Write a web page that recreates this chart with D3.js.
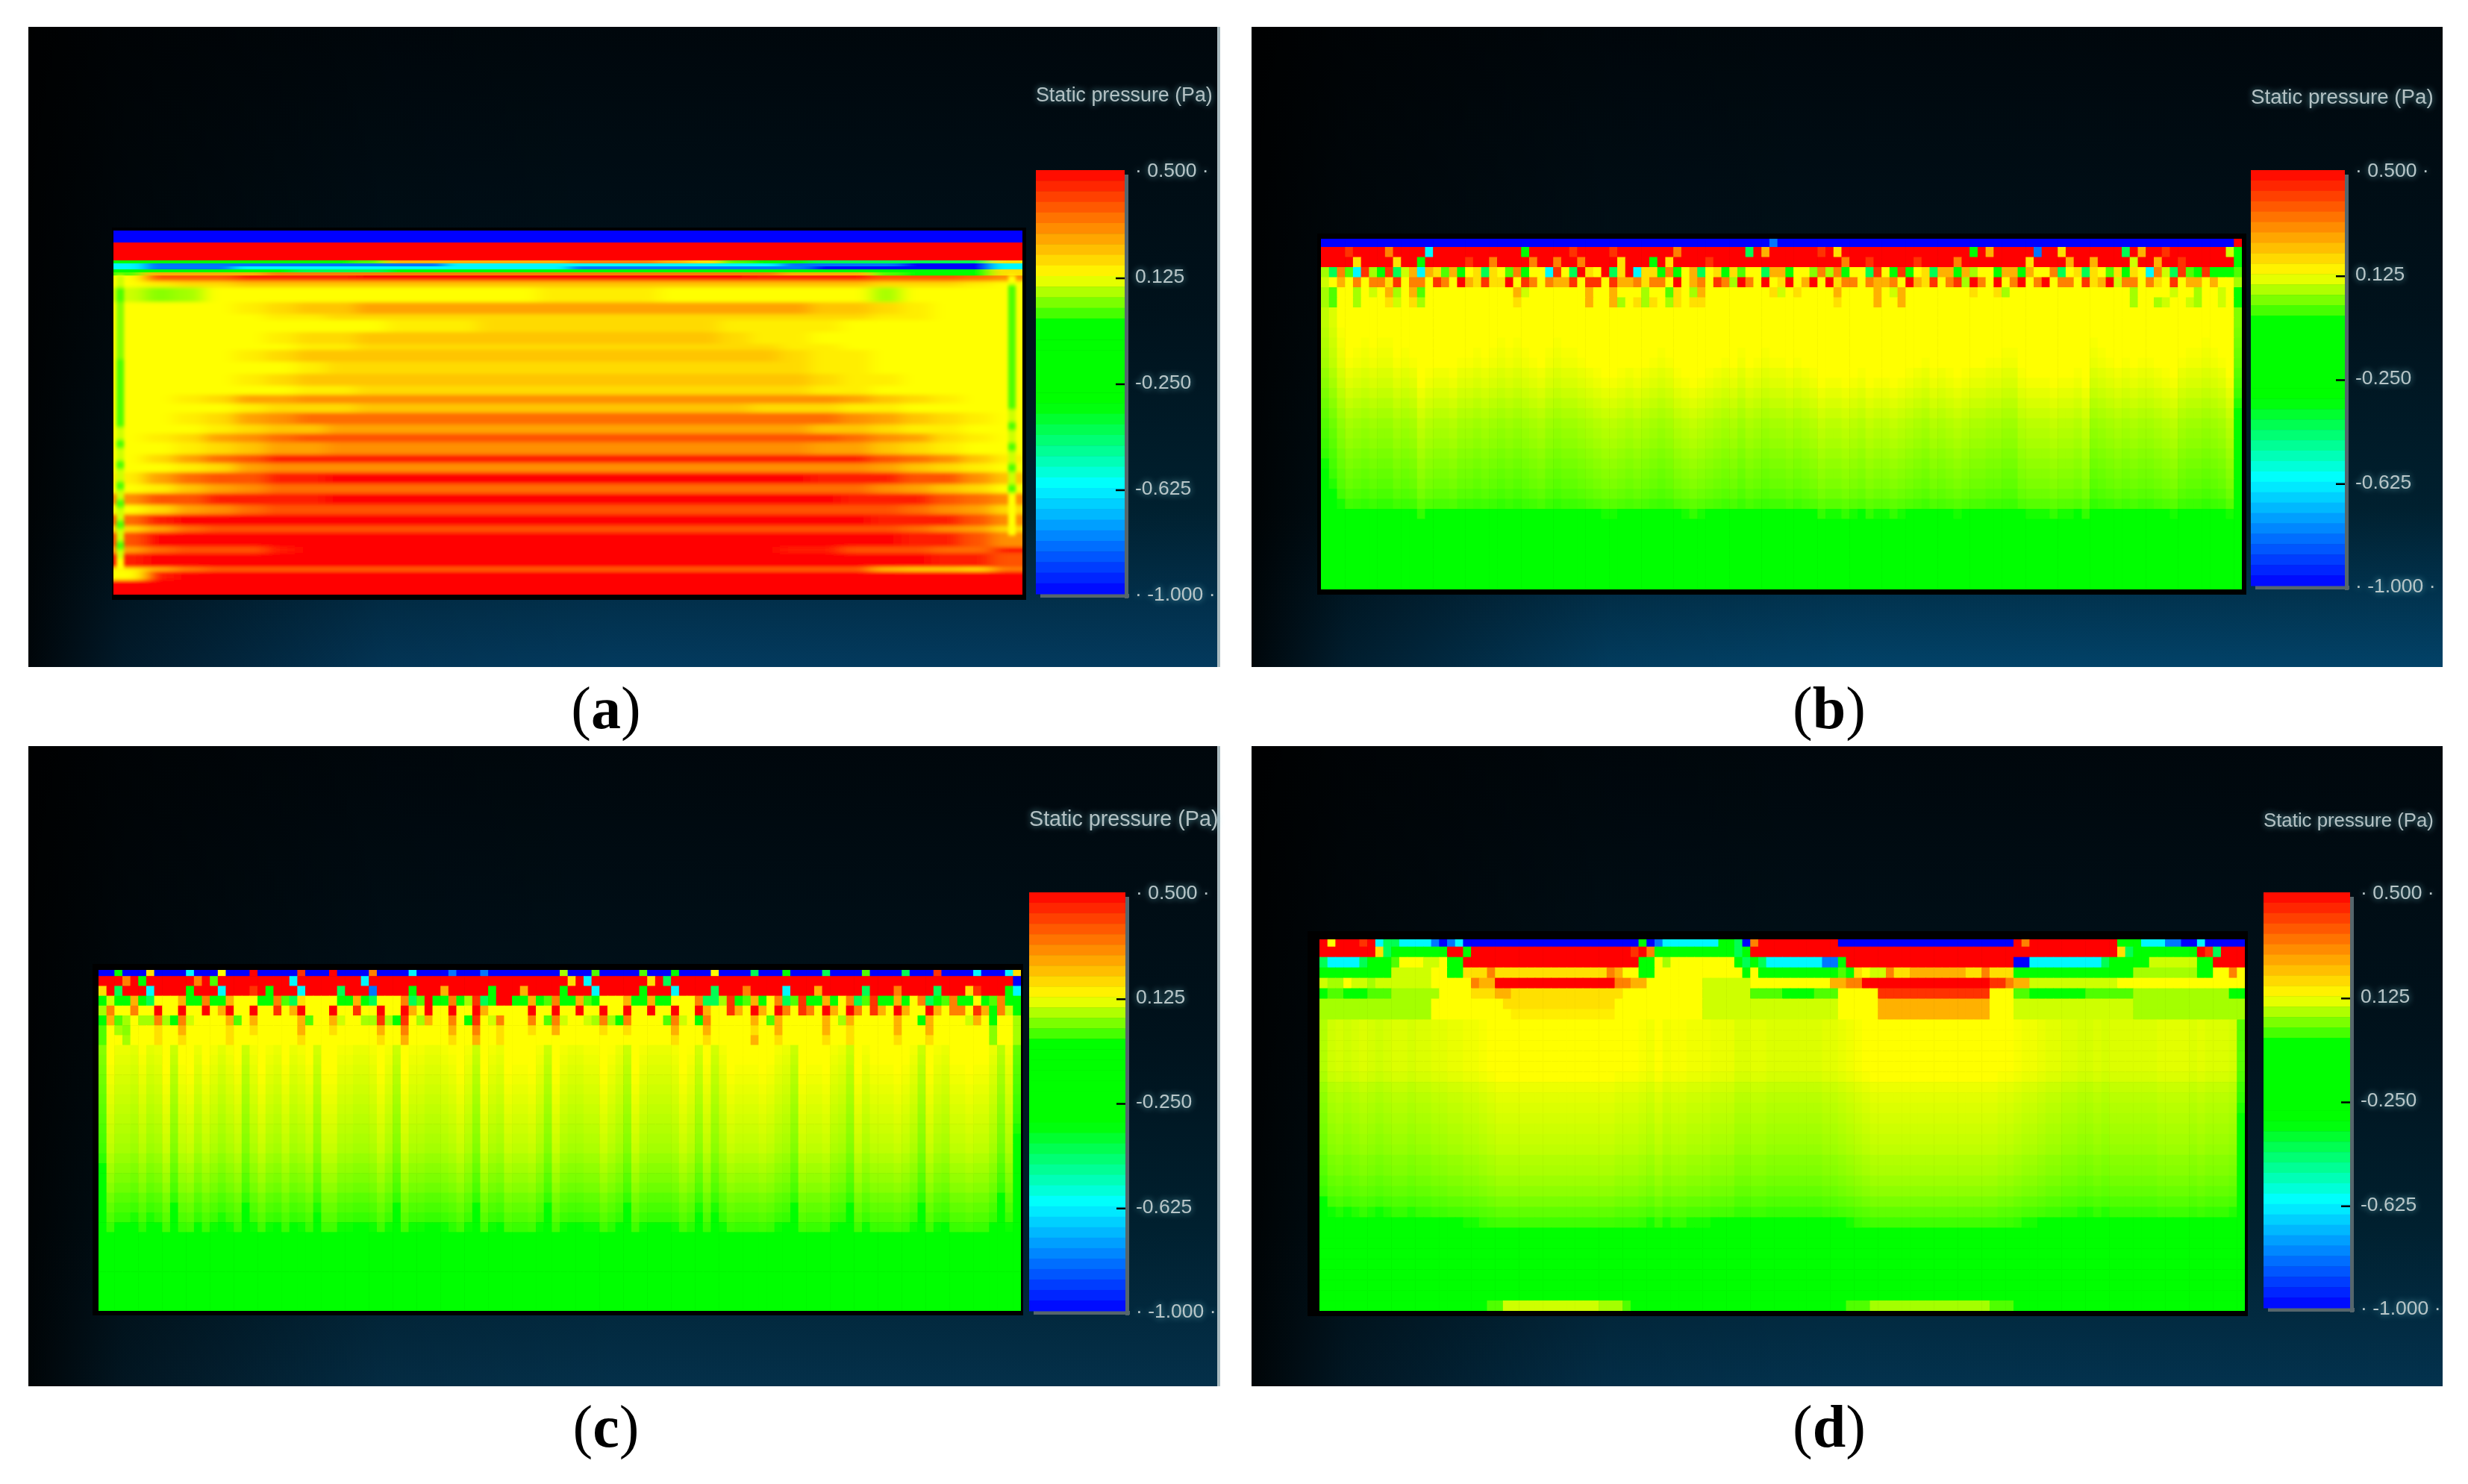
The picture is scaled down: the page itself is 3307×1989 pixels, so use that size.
<!DOCTYPE html>
<html><head><meta charset="utf-8">
<script src="https://cdn.jsdelivr.net/npm/d3@7"></script>
<style>html,body{margin:0;background:#fff}svg{display:block}</style></head>
<body><svg id="c" width="3307" height="1989"></svg>
<script>
// ---------- shared colour legend ----------
const tickValues = [0.5, 0.125, -0.25, -0.625, -1];
const colorDomain = [0.5, 0.125, -0.02, -0.03, -0.33, -0.61, -1];
const colorRange = ["#ff0000", "#ffff00", "#33ff00", "#00ff00", "#00ff00", "#00ffff", "#0000ff"];
const levelCodes = ["R","8","r","7","6","o","5","4","a","3","2","g","1","Y","y","l","L","k","G","e","c","d","B"];
const levelValues = [0.5,0.46,0.43,0.38,0.34,0.31,0.29,0.26,0.24,0.21,0.18,0.17,0.15,0.125,0.09,0.06,0.04,0,-0.2,-0.42,-0.62,-0.82,-1];

// ---------- panel (a): bands read top to bottom; each is [left samples, middle code, right samples, rows spanned] ----------
const aTopBands = [
 ["B","B","",4],["R","R","",6],
 ["GGGGGGGGkaaaaaaoooagkGGeeeeeeg","","",1],
 ["cddddddddddcccccccccccddddBBBc","","",1],
 ["cdddcccccccccccddddddddBBBBBBc","","",1],
 ["GGGGGGeeeGGGGGGGGGGGGGGGGGGGGg","","",1],
 ["kaaaaoooooooooooooooooaaakGGGg","","",1]];
const aBands = [
 ["Y7778888","R","888877765",2],
 ["Y12233","3","332221Y",2],
 ["yLlYYYYYYYYYYY1111YYYYYYYlYYYY","","",5],
 ["YYYY1233","4","43321YYY",4],
 ["YYYYY1122","2","2211YYY",2],
 ["YYYYYYYYY111222222221111YYYYYY","","",4],
 ["YYYYY1223","3","3211YYYYYYY",4],
 ["YYYYYY1122","2","2211YYYYYY",2],
 ["YYYY1233","3","33211YYYYY",4],
 ["YYYYYY122","2","2211YYYYY",4],
 ["YYYY1233","3","33211YYYY",4],
 ["YYYYYY112","2","211YYYYY",3],
 ["YY12445","5","554321YY",3],
 ["YYYY1222","3","322211YYYY",3],
 ["YY124566","6","66654321Y",4],
 ["YYY12334","4","4433211YY",3],
 ["Y1245677","7","77765421Y",3],
 ["YY1234455","5","5544321YY",4],
 ["Y2467888","8","88876531",3],
 ["YY124555","5","5554321Y",3],
 ["1467788R","R","R8887753",4],
 ["Y1345666","6","6665432Y",3],
 ["5778888R","R","R888765",4],
 ["Y2456777","7","77776542",3],
 ["68RR","R","R88875",4],
 ["24677777","7","7776542",2],
 ["7RRR","R","R8875",5],
 ["467778R","R","8877766R",2],
 ["8RR","R","R887",5],
 ["13566","6","66211Y5",1],
 ["Y8R","R","RR",3],
 ["R","R","",5]];
const aLeftEdge = [["y",4],["k",5],["L",19],["k",23],["y",4],["k",3],["y",4],["k",3],["y",4],["k",3],["y",3],["k",3],["y",4],["k",3],["y",4],["k",3],["y",3],["Y",4],[".",8]];
const aRightEdge = [["Y",3],["k",42],["y",4],["k",3],["y",4],["k",3],["y",4],["k",3],["y",4],["k",3],["Y",14],[".",20]];

// ---------- panel (b) ----------
const bRow0 = "56d 114R";
const bRow1 = "3r 8o 13c 25G 31r 36r 44o 53e 55a 62r 64g 81G 83a 89d 92g 100e 102a 105r 113y 114G";
const bRow2 = "4g 9g 12G 18r 21o 26o 29o 32o 37g 41G 43g 48r 65o 68r 74r 79o 88g 93a 96a 101y 104a 107r 114G";
const bRow3 = "leokcrlGre"+"yacagkaGYg"+"egYkoGYYcr"+"YeRgYRegRc"+"ggGoGYaeYg"+"GgkYYeaaGY"+"YLo"+"loGYYer"+"YGrGYgeaaG"+"alYYGaaGaY"+"YoeYgegYkg"+"GgYcoyerkG"+"rGGGk";
const bRow4 = "yYaYoYoogr"+"YooYroYRag"+"rggRYroYoa"+"arYrrYraao"+"gooYRYaoYr"+"olRoYRYgRY"+"aRY"+"RgooYoaaoY"+"RagrYorlRo"+"YRYoRYoRYo"+"oYrgaRyooY"+"ogYrYaaYaYYl";
const bRow5 = "0l 1k 4l 6y 8a 9l 11a 12k 24a 25y 33a 36a 40l 43k 44g 46l 47a 56g 57y 59g 64a 69a 71y 72a 81g 84g 85l 101l 106y 109l 112y 114G";
const bRow6 = "0l 1k 4l 8g 9y 11g 12l 24g 33a 36a 37l 39g 40l 41g 43l 44g 46g 47g 64g 69a 72a 101l 104l 105y 108y 109l 112y 114G";
const bBodyRows = [.16,.16,.155,.15,.145,.14,.13,.122,.112,.102,.092,.082,.075,.068,.06,.052,.045,.037,.026,.01,-.02,-.035,-.04,-.05,-.06,-.07,-.08,-.09];
const bColumnShade = "gc74565664"+"5402332445"+"4565654356"+"5543211232"+"3454210123"+"4353454434"+"3201101201"+"1012342321"+"2334455211"+"1011206543"+"4344321455"+"6541p";

// ---------- panel (c) ----------
const cRow0 = "2G 6g 11c 15Y 19R 25r 29R 34o 39c 44d 48d 58l 62k 68k 72G 77Y 82e 86G 91e 96k 101e 105r 110c 114c 115g";
const cRow1 = "3o 5G 12o 14k 24c 33c 59g 61c 69g 71e 115B";
const cRow2 = "0g 2e 6c 11G 15c 19r 21G 25c 30e 34d 39G 43a 49G 53a 58G 62c 68G 72c 77e 81o 86c 90a 96e 100o 105e 109g 110r 114G 115c";
const cRow3 = "GyGGaGeYYYaGGoGGaYYY"+"GGokegYYYYGGaGeYYYoe"+"kRGGoGlreGRRGGaGkoGGak"+"GYYYaGGaGGYYYoeelrGkaGYoekrGGaGYoekrGGaGYoeGkoGGYGkoGG";
const cRow4 = "0l 1o 4o 7R 10R 13R 15a 16R 19R 22r 24a 25R 29R 32r 35R 38R 39a 41R 44R 47R 48a 54R 57R 60R 63R 66R 69R 72R 75R 76a 79r 80a 82R 83a 85R 86o 88r 89o 91R 92a 94R 95o 97r 98a 100R 101a 104R 105a 107o 108o 110r 111a 112G 113o 114y 115G";
const cRow5 = "0G 1a 2k 3l 5l 6l 7o 8l 9G 10o 11y 16a 17k 19a 25a 26k 29a 30y 33l 34l 35r 36l 37G 38r 40l 41a 44o 46G 47r 49y 50o 54o 56k 57o 58y 61y 62l 63o 64l 65G 66o 71k 72o 73y 75G 76o 82a 84k 85a 91a 93l 94a 100a 103G 104a 109y 110a 112G 115l";
const cRow6 = "0k 2l 3L 7g 10a 16g 19g 25a 29g 35a 38o 44a 47o 50g 54g 57a 63g 66g 72a 76a 82g 85a 91a 94g 100a 104a 112L 115l";
const cRow7 = "0k 3l 7g 10g 16g 25g 35g 38a 44g 47a 50g 72g 76g 82a 85g 91g 94g 100g 104g 112L 115l";
const cBodyRows = [.135,.13,.125,.12,.115,.11,.105,.1,.095,.09,.085,.075,.065,.055,.045,.03,.018,.006,-.01,-.03,-.035,-.04,-.05,-.06,-.07,-.08,-.09];
const cColumnShade = "g144525408"+"1041353183"+"0341431700"+"3344303803"+"3443203803"+"4011038034"+"4330248034"+"4430271730"+"1110134801"+"1034803111"+"0138034110"+"114a3k";

// ---------- panel (d): rows as [code, end column] runs ----------
const dTopRuns = [
 [["R",1],["Y",2],["R",5],["r",6],["R",7],["c",8],["e",10],["c",14],["d",15],["B",16],["d",17],["c",18],["B",40],["G",41],["B",42],["d",43],["c",50],["G",52],["e",53],["B",54],["o",55],["R",65],["B",87],["R",88],["o",89],["R",100],["G",103],["c",106],["d",108],["B",110],["c",111],["B",116]],
 [["R",7],["g",8],["e",9],["G",16],["R",18],["G",19],["R",39],["r",40],["R",41],["o",42],["G",52],["e",53],["G",54],["R",100],["g",101],["e",102],["G",110],["R",111],["r",112],["e",113],["R",116]],
 [["e",1],["c",5],["e",6],["G",9],["k",10],["Y",13],["y",15],["Y",16],["G",18],["R",40],["G",42],["Y",43],["l",44],["Y",52],["G",53],["e",54],["G",55],["e",56],["c",63],["d",65],["G",66],["R",87],["B",89],["c",98],["e",99],["G",104],["y",110],["G",112],["R",116]],
 [["G",9],["y",14],["Y",16],["G",18],["g",21],["o",22],["g",36],["o",37],["a",38],["Y",40],["G",42],["Y",53],["G",54],["Y",55],["G",65],["k",66],["G",67],["g",68],["Y",69],["y",71],["o",72],["g",74],["a",81],["g",83],["o",84],["g",87],["G",102],["l",110],["G",112],["Y",114],["o",115],["Y",116]],
 [["y",1],["l",3],["Y",4],["y",6],["l",7],["y",14],["Y",19],["o",20],["a",22],["R",37],["o",39],["a",41],["Y",48],["y",54],["Y",64],["a",66],["o",68],["R",84],["r",86],["o",87],["a",89],["y",100],["Y",116]],
 [["G",1],["k",3],["G",6],["k",9],["l",15],["Y",19],["g",22],["a",24],["g",38],["Y",48],["y",54],["k",58],["G",62],["k",65],["Y",70],["r",84],["Y",87],["k",89],["G",96],["k",102],["l",114],["G",116]],
 [["l",14],["Y",23],["g",37],["Y",48],["y",65],["Y",70],["a",84],["Y",87],["y",102],["l",116]],
 [["l",14],["Y",24],["1",37],["Y",48],["y",65],["Y",70],["a",84],["Y",87],["y",102],["l",116]]];
const dBodyRows = [.13,.13,.13,.13,.13,.125,.112,.105,.1,.095,.09,.085,.08,.07,.065,.055,.045,.03,.012,-.01,-.03,-.04,-.05,-.06,-.07,-.08,-.09];
const dColumnShade = "c878767876"+"6766554433"+"2100000000"+"0000000111"+"2313223334"+"4466556666"+"6665543210"+"0000000000"+"0000011233"+"4556677676"+"6666655556"+"56667p";
const dLastRow = [["G",21],["k",23],["y",35],["l",38],["k",39],["G",66],["k",69],["l",84],["k",87],["G",116]];

const panelLabels = ["a","b","c","d"];

// ---------- scales & helpers ----------
const color = d3.scaleLinear().domain(colorDomain).range(colorRange).clamp(true);
const levelValue = new Map(levelCodes.map((c,i)=>[c,levelValues[i]]));
const val = c => levelValue.get(c);
const pad = (s,n) => s.padEnd(n, s[s.length-1]);
const codeRow = (s,n) => Array.from(pad(s,n), val);
const spotRow = (base,spots,n) => {
  const r = Array(n).fill(val(base));
  spots.split(" ").forEach(t => { const m=t.match(/(\d+)(.)/); if(+m[1]<n) r[+m[1]] = val(m[2]); });
  return r;
};
const runRow = (runs,n) => {
  const r=[]; let c=0;
  runs.forEach(([code,end]) => { while(c<end && c<n){ r[c++]=val(code);} });
  while(c<n) r[c++]=val(runs[runs.length-1][0]);
  return r;
};
const bodyRows = (rows,shade,step,n) => rows.map(b => d3.range(n).map(c =>
  Math.min(0.125, b - step*parseInt(shade[Math.min(c,shade.length-1)],36))));
const expand = bands => bands.flatMap(([s,k]) => d3.range(k).map(()=>s));
const bandText = (l,m,r,n) => l + m.repeat(Math.max(0,n-l.length-r.length)) + r;
const expandBands = (bands,n) => bands.flatMap(([l,m,r,k]) => d3.range(k).map(()=>bandText(l,m,r,n)));

const svg = d3.select("#c");
const defs = svg.append("defs");
const blur = (id,sd) => defs.append("filter").attr("id",id)
  .attr("filterUnits","userSpaceOnUse").attr("x",0).attr("y",0).attr("width",3307).attr("height",1989)
  .append("feGaussianBlur").attr("stdDeviation",sd);
blur("cells","0.7"); blur("field","11 2.4"); blur("thin","10 0.4"); blur("edge","2.2 2.5");

// ---------- panel frames ----------
const frames = [
 {x:38,y:36,w:1597,h:858,bottom:"#033a5e",strip:true},
 {x:1677,y:36,w:1596,h:858,bottom:"#024268",strip:false},
 {x:38,y:1000,w:1597,h:858,bottom:"#04304a",strip:true},
 {x:1677,y:1000,w:1596,h:858,bottom:"#03324e",strip:false}];
frames.forEach((f,i)=>{
  const g = defs.append("linearGradient").attr("id","bg"+i).attr("x1",0).attr("x2",0).attr("y1",0).attr("y2",1);
  [[0,"#00070c"],[.45,"#00121c"],[.75,"#00202f"],[1,f.bottom]].forEach(([o,c])=>g.append("stop").attr("offset",o).attr("stop-color",c));
  svg.append("rect").attr("x",f.x).attr("y",f.y).attr("width",f.w).attr("height",f.h).attr("fill","url(#bg"+i+")");
  const h = defs.append("linearGradient").attr("id","shade"+i);
  [[0,.9],[.08,.55],[.3,.1],[.5,0]].forEach(([o,a])=>h.append("stop").attr("offset",o).attr("stop-color","#000").attr("stop-opacity",a));
  svg.append("rect").attr("x",f.x).attr("y",f.y).attr("width",f.w).attr("height",f.h).attr("fill","url(#shade"+i+")");
  if(f.strip) svg.append("rect").attr("x",f.x+f.w-4).attr("y",f.y).attr("width",4).attr("height",f.h).attr("fill","#a9babf");
});

// ---------- heat-map drawing ----------
function plotFrame(p,i){
  svg.append("rect").attr("x",p.x0-p.b[0]).attr("y",p.y0-p.b[1]).attr("width",p.x1-p.x0+p.b[0]+p.b[2]).attr("height",p.y1-p.y0+p.b[1]+p.b[3]).attr("fill","#000");
  defs.append("clipPath").attr("id","clip"+i).append("rect").attr("x",p.x0).attr("y",p.y0).attr("width",p.x1-p.x0).attr("height",p.y1-p.y0);
}
function cellPanel(p,i,grid){
  plotFrame(p,i);
  const nC = grid[0].length;
  const x = d3.scaleBand().domain(d3.range(nC)).range([p.x0,p.x1]);
  const y = d3.scaleBand().domain(d3.range(grid.length)).range([p.rowTop,p.y1]);
  const g = svg.append("g").attr("clip-path","url(#clip"+i+")").append("g").attr("filter","url(#cells)");
  g.selectAll("g").data(grid).join("g").selectAll("rect").data((d,r)=>d.map((v,c)=>({v,c,r}))).join("rect")
    .attr("x",d=>x(d.c)).attr("y",d=>y(d.r)).attr("width",x.bandwidth()+.6).attr("height",y.bandwidth()+.6)
    .attr("fill",d=>color(d.v));
}

// Panel (a)
(function(){
  const p={x0:152,x1:1370,y0:309,y1:797,b:[2,4,5,7]};
  plotFrame(p,0);
  const nC=30, top=expandBands(aTopBands,nC), body=expandBands(aBands,nC), total=top.length+body.length;
  const x=d3.scaleLinear().domain([0,nC]).range([p.x0,p.x1]);
  const y=d3.scaleBand().domain(d3.range(total)).range([p.y0,p.y1]);
  const root=svg.append("g").attr("clip-path","url(#clip0)");
  const rowCells=(s,r)=>codeRow(s,nC).map((v,c)=>({v,c,r}));
  const field=root.append("g").attr("filter","url(#field)");
  field.selectAll("g").data(body).join("g").selectAll("rect").data((s,i)=>rowCells(s,i+top.length)).join("rect")
    .attr("x",d=>x(d.c)-(d.c===0?60:0)).attr("width",d=>x(1)-x(0)+1+(d.c===0||d.c===nC-1?60:0))
    .attr("y",d=>y(d.r)-(d.r===top.length?12:0)).attr("height",d=>y.bandwidth()+.5+(d.r===total-1?30:0)+(d.r===top.length?12:0))
    .attr("fill",d=>color(d.v));
  const thin=root.append("g").attr("filter","url(#thin)");
  thin.selectAll("g").data(top).join("g").selectAll("rect").data((s,i)=>rowCells(s,i)).join("rect")
    .attr("x",d=>x(d.c)-(d.c===0?40:0)).attr("width",d=>x(1)-x(0)+1+(d.c===0||d.c===nC-1?40:0))
    .attr("y",d=>y(d.r)-(d.r===0?10:0)).attr("height",d=>y.bandwidth()+.3+(d.r===0?10:0))
    .attr("fill",d=>color(d.v));
  const edge=root.append("g").attr("filter","url(#edge)");
  [[aLeftEdge,0.1],[aRightEdge,29.53]].forEach(([runs,col])=>{
    const codes=expand(runs);
    edge.append("g").selectAll("rect").data(codes.map((c,i)=>({c,i})).filter(d=>d.c!==".")).join("rect")
      .attr("x",x(col)).attr("width",x(.25)-x(0)).attr("y",d=>y(d.i+top.length)).attr("height",y.bandwidth()+.5)
      .attr("fill",d=>color(val(d.c)));
  });
})();

// Panel (b)
(function(){
  const n=115, G=spotRow;
  const grid=[G("B",bRow0,n),G("R",bRow1,n),G("R",bRow2,n),codeRow(bRow3,n),codeRow(bRow4,n),G("Y",bRow5,n),G("Y",bRow6,n),...bodyRows(bBodyRows,bColumnShade,.005,n)];
  cellPanel({x0:1770,x1:3004,y0:320,y1:790,rowTop:790-13.5*grid.length,b:[5,7,6,7]},1,grid);
})();
// Panel (c)
(function(){
  const n=116, G=spotRow;
  const grid=[G("B",cRow0,n),G("R",cRow1,n),G("R",cRow2,n),codeRow(cRow3,n),G("Y",cRow4,n),G("Y",cRow5,n),G("Y",cRow6,n),G("Y",cRow7,n),...bodyRows(cBodyRows,cColumnShade,.006,n)];
  cellPanel({x0:132,x1:1368,y0:1300,y1:1757,rowTop:1757-13.2*grid.length,b:[8,8,3,6]},2,grid);
})();
// Panel (d)
(function(){
  const n=116;
  const grid=[...dTopRuns.map(r=>runRow(r,n)),...bodyRows(dBodyRows,dColumnShade,.005,n),runRow(dLastRow,n)];
  cellPanel({x0:1768,x1:3008,y0:1259,y1:1757,rowTop:1757-13.95*grid.length,b:[16,11,4,7]},3,grid);
})();

// ---------- legends ----------
const legends = [
 {x0:1388,x1:1507,y0:228,y1:796,tx:1388,ty:127,fs:26.8},
 {x0:3016,x1:3142,y0:228,y1:785,tx:3016,ty:129,fs:27.7},
 {x0:1379,x1:1508,y0:1196,y1:1757,tx:1379,ty:1097,fs:28.7},
 {x0:3033,x1:3149,y0:1196,y1:1753,tx:3033,ty:1099,fs:25.8}];
const glow="drop-shadow(0 0 4px rgba(130,215,225,.7)) blur(0.5px)";
legends.forEach(l=>{
  const ly=d3.scaleLinear().domain([0.5,-1]).range([l.y0,l.y1]);
  svg.append("rect").attr("x",l.x1).attr("y",l.y0+6).attr("width",5).attr("height",l.y1-l.y0).attr("fill","#56666c");
  svg.append("rect").attr("x",l.x0+6).attr("y",l.y1).attr("width",l.x1-l.x0).attr("height",5).attr("fill","#56666c");
  const steps=d3.range(40), sh=(l.y1-l.y0)/steps.length;
  svg.append("g").selectAll("rect").data(steps).join("rect")
    .attr("x",l.x0).attr("width",l.x1-l.x0).attr("y",d=>l.y0+d*sh).attr("height",sh+.5)
    .attr("fill",d=>color(ly.invert(l.y0+(d+.5)*sh)));
  svg.append("g").selectAll("line").data(tickValues.slice(1,4)).join("line")
    .attr("x1",l.x1-12).attr("x2",l.x1).attr("y1",d=>ly(d)+3).attr("y2",d=>ly(d)+3).attr("stroke","#000").attr("stroke-width",2.5);
  const axis=d3.axisRight(ly).tickValues(tickValues).tickSize(0).tickPadding(14)
    .tickFormat(v=>{const t=d3.format(".3f")(v).replace("\u2212","-");return (v===0.5||v===-1)?"\u00b7 "+t+" \u00b7":t;});
  const ga=svg.append("g").attr("transform","translate("+l.x1+",0)").call(axis);
  ga.select(".domain").remove();
  ga.selectAll("text").attr("font-family","Liberation Sans").attr("font-size",26.5).attr("fill","#b8c6c8").style("filter",glow);
  svg.append("text").attr("x",l.tx).attr("y",l.ty).attr("dy","0.35em").attr("font-family","Liberation Sans")
    .attr("font-size",l.fs).attr("fill","#b4c2c4").style("filter",glow).text("Static pressure (Pa)");
});

// ---------- captions ----------
const captionX=[812,2451,812,2451], captionY=[976,976,1939,1939];
panelLabels.forEach((t,i)=>{
  const tx=svg.append("text").attr("x",captionX[i]).attr("y",captionY[i]).attr("text-anchor","middle")
    .attr("font-family","Liberation Serif").attr("font-size",80).attr("fill","#000");
  tx.append("tspan").text("(");
  tx.append("tspan").attr("font-weight","bold").text(t);
  tx.append("tspan").text(")");
});
</script></body></html>
